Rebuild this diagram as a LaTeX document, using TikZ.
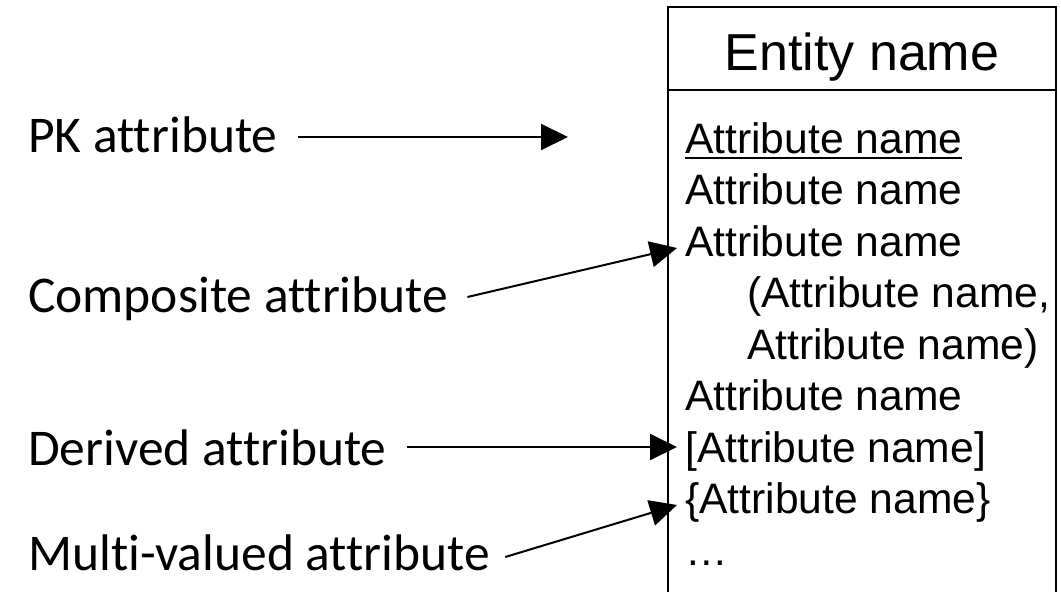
\documentclass[tikz,border=0pt]{standalone}
\usepackage{fontspec}
\setmainfont{Liberation Sans}
\newfontfamily\labelfont{Carlito}[Ligatures=NoCommon]
\usetikzlibrary{arrows.meta}
\begin{document}
\begin{tikzpicture}[x=1pt,y=-1pt,
  lbl/.style={font=\labelfont\fontsize{51.5}{60}\selectfont, anchor=base west, inner sep=0pt},
  attr/.style={font=\fontsize{42.6}{51.5}\selectfont, anchor=base west, inner sep=0pt},
  conn/.style={line width=2pt, -{Triangle[length=27pt,width=26pt]}},
  frame/.style={line width=2pt}]
\useasboundingbox (0,0) rectangle (1061,592);

% entity box (open at the bottom of the page)
\draw[frame] (668,593) -- (668,7) -- (1056,7) -- (1056,593);
\draw[frame] (668,90) -- (1056,90);
\node[font=\fontsize{52}{60}\selectfont, anchor=base, inner sep=0pt] (title) at (862,70) {Entity name};

% attribute rows
\node[attr] (r1) at (685,153)   {Attribute name};
\node[attr] (r2) at (685,204.5) {Attribute name};
\node[attr] (r3) at (685,256)   {Attribute name};
\node[attr] (r4) at (747,307.5) {(Attribute name,};
\node[attr] (r5) at (747,359)   {Attribute name)};
\node[attr] (r6) at (685,410.5) {Attribute name};
\node[attr] (r7) at (685,462)   {[Attribute name]};
\node[attr] (r8) at (685,513.5) {\{Attribute name\}};
\node[attr] (r9) at (685,565)   {…};
\draw[line width=2pt] ([yshift=-5pt]r1.base west) -- ([yshift=-5pt]r1.base east);

% legend labels
\node[lbl] (pk)    at (28,152) {PK attribute};
\node[lbl] (comp)  at (28,312) {Composite attribute};
\node[lbl] (der)   at (28,465) {Derived attribute};
\node[lbl] (multi) at (28,570) {Multi-valued attribute};

% arrow targets
\coordinate (pkTip)    at (568,137);
\coordinate (compTip)  at (677,248);
\coordinate (derTip)   at (677,447);
\coordinate (multiTip) at (677,505);

\draw[conn] ([shift={(20pt,15pt)}]pk.base east)    -- (pkTip);
\draw[conn] ([shift={(19pt,15pt)}]comp.base east)  -- (compTip);
\draw[conn] ([shift={(20pt,18pt)}]der.base east)   -- (derTip);
\draw[conn] ([shift={(15pt,13pt)}]multi.base east) -- (multiTip);
\end{tikzpicture}
\end{document}
